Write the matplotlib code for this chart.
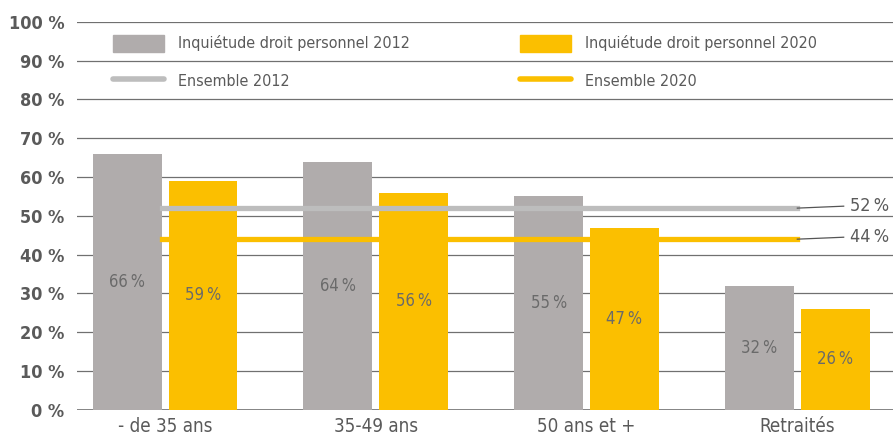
import numpy as np
import matplotlib
matplotlib.use("Agg")
import matplotlib.pyplot as plt
from matplotlib.patches import Patch
from matplotlib.lines import Line2D

plt.rcParams['font.family'] = ['DejaVu Sans']
plt.rcParams['font.stretch'] = 'condensed'

categories = ["- de 35 ans", "35-49 ans", "50 ans et +", "Retraités"]
inquietude_2012 = [66, 64, 55, 32]
inquietude_2020 = [59, 56, 47, 26]
ensemble_2012 = 52
ensemble_2020 = 44
yticks = [0, 10, 20, 30, 40, 50, 60, 70, 80, 90, 100]

c_gray = "#B0ACAC"
c_yellow = "#FBBF00"
c_line_gray = "#BDBDBD"
c_text = "#5A5A5A"

fig = plt.figure(figsize=(8.95, 4.37), dpi=100)
ax = fig.add_axes([0.086, 0.062, 0.912, 0.888])

x = np.arange(len(categories))
w = 0.327
off = 0.18

for yv in yticks[1:]:
    ax.axhline(yv, color="#707070", lw=0.9, zorder=0)
ax.axhline(0, color="#707070", lw=1.2, zorder=0)

ax.bar(x - off, inquietude_2012, w, color=c_gray, zorder=2)
ax.bar(x + off, inquietude_2020, w, color=c_yellow, zorder=2)

for xi, v in zip(x, inquietude_2012):
    ax.text(xi - off, v / 2, f"{v}\u2009%", ha="center", va="center",
            fontsize=12, color="#6A6A6A", zorder=4)
for xi, v in zip(x, inquietude_2020):
    ax.text(xi + off, v / 2, f"{v}\u2009%", ha="center", va="center",
            fontsize=12, color="#6A6A6A", zorder=4)

# lignes ensemble
x0, x1 = x[0] - off + w / 2, x[-1]
ax.plot([x0, x1], [ensemble_2012, ensemble_2012], color=c_line_gray, lw=3.8, zorder=3)
ax.plot([x0, x1], [ensemble_2020, ensemble_2020], color=c_yellow, lw=3.8, zorder=3)
for val in [ensemble_2012, ensemble_2020]:
    ax.plot([x1, x1 + 0.22], [val, val + 0.5], color="#555555", lw=0.9, zorder=3)
    ax.text(x1 + 0.25, val + 0.5, f"{val}\u2009%", ha="left", va="center",
            fontsize=13, color=c_text)

ax.set_xlim(-0.418, 3.455)
ax.set_ylim(0, 100)
ax.set_xticks(x)
ax.set_xticklabels(categories, fontsize=13.5, color=c_text)
ax.set_yticks(yticks)
ax.set_yticklabels([f"{t} %" for t in yticks], fontsize=13, color=c_text, fontweight="bold")
ax.tick_params(length=0, pad=9)
ax.tick_params(axis="x", pad=5)
for s in ax.spines.values():
    s.set_visible(False)

h_left = [
    Patch(color=c_gray, label="Inquiétude droit personnel 2012"),
    Line2D([0], [0], color=c_line_gray, lw=4, solid_capstyle="round", label="Ensemble 2012"),
]
h_right = [
    Patch(color=c_yellow, label="Inquiétude droit personnel 2020"),
    Line2D([0], [0], color=c_yellow, lw=4, solid_capstyle="round", label="Ensemble 2020"),
]
legs = []
for hs, xa in [(h_left, 0.044), (h_right, 0.543)]:
    leg = ax.legend(handles=hs, loc="upper left", bbox_to_anchor=(xa, 0.967),
                    frameon=False, fontsize=11.5, handlelength=3.2, handleheight=1.25,
                    labelspacing=1.3, handletextpad=0.85, borderpad=0, borderaxespad=0)
    for t in leg.get_texts():
        t.set_color(c_text)
    legs.append(leg)
ax.add_artist(legs[0])

fig.savefig("out.png", dpi=100)
